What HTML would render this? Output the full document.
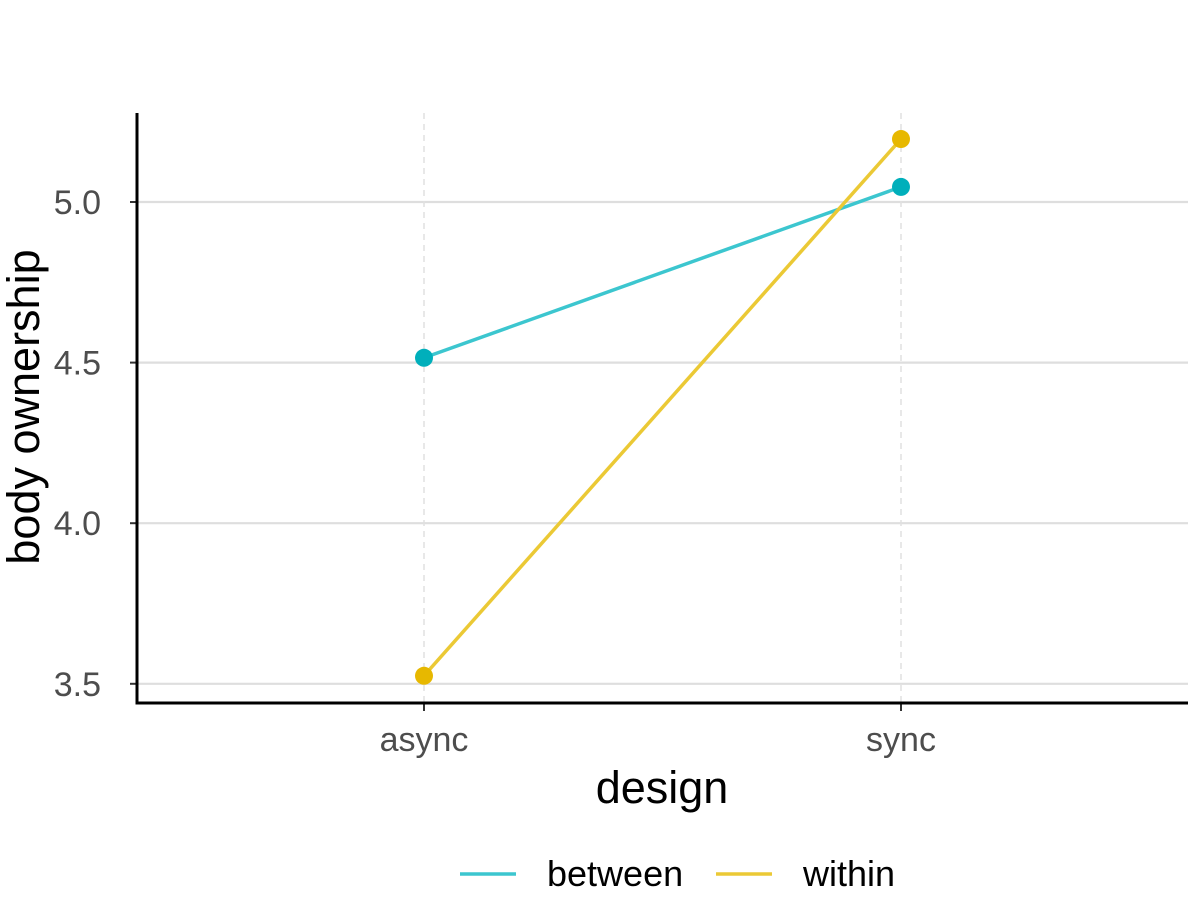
<!DOCTYPE html>
<html><head><meta charset="utf-8"><style>
body{margin:0;background:#fff}
svg{display:block;font-family:"Liberation Sans",Arial,sans-serif}
</style></head><body>
<svg id="chart" width="1200" height="900">
<g id="grid"></g><g id="marks"></g><g id="axes"></g>
<text x="662" y="803" font-size="45" text-anchor="middle" fill="#000">design</text>
<text transform="translate(39,407) rotate(-90)" font-size="45" text-anchor="middle" fill="#000">body ownership</text>
<g>
<line x1="460" x2="516" y1="874" y2="874" stroke="#3CC6CF" stroke-width="3.5"/>
<text x="547" y="886" font-size="36" fill="#000">between</text>
<line x1="716" x2="772" y1="874" y2="874" stroke="#EBC935" stroke-width="3.5"/>
<text x="803" y="886" font-size="36" fill="#000">within</text>
</g>
</svg>
<script>
const categories=["async","sync"];
const yTicks=[3.5,4.0,4.5,5.0];
const seriesNames=["between","within"];
const betweenValues=[4.515,5.047];
const withinValues=[3.525,5.196];
const NS="http://www.w3.org/2000/svg";
const x=i=>424+i*477;
const y=v=>202+(5.0-v)*321.2;
function el(t,a,p){const e=document.createElementNS(NS,t);for(const k in a)e.setAttribute(k,a[k]);document.getElementById(p).appendChild(e);return e;}
yTicks.forEach(t=>{
 const g=el("line",{x1:137,x2:1188,y1:y(t),y2:y(t),stroke:"#dedede","stroke-width":2.2},"grid");
 
 
 const tk=el("line",{x1:130,x2:137,y1:y(t),y2:y(t),stroke:"#333","stroke-width":2},"axes");
 
 
 const l=el("text",{x:101,y:y(t)+12,"font-size":34,"text-anchor":"end",fill:"#4d4d4d"},"axes");
 l.textContent=t.toFixed(1);
 
 
});
categories.forEach((c,i)=>{
 const g=el("line",{x1:x(i),x2:x(i),y1:113,y2:703,stroke:"#e0e0e0","stroke-width":1.5,"stroke-dasharray":"6,5"},"grid");
 
 
 const tk=el("line",{x1:x(i),x2:x(i),y1:703,y2:711,stroke:"#333","stroke-width":2},"axes");
 
 
 const l=el("text",{x:x(i),y:751,"font-size":34,"text-anchor":"middle",fill:"#4d4d4d"},"axes");
 l.textContent=c;
 
 
});
const ax=el("path",{d:"M137 113V703H1188",fill:"none",stroke:"#000","stroke-width":3},"axes");


[[betweenValues,"#3CC6CF","#00AFBB","between"],[withinValues,"#EBC935","#E7B800","within"]].forEach(([vals,lc,pc,n])=>{
 const ln=el("polyline",{points:vals.map((v,i)=>x(i)+","+y(v)).join(" "),fill:"none",stroke:lc,"stroke-width":3.5},"marks");
 
 
 vals.forEach((v,i)=>{
  const p=el("circle",{cx:x(i),cy:y(v),r:9,fill:pc},"marks");
  
  
 });
});
</script>
</body></html>
